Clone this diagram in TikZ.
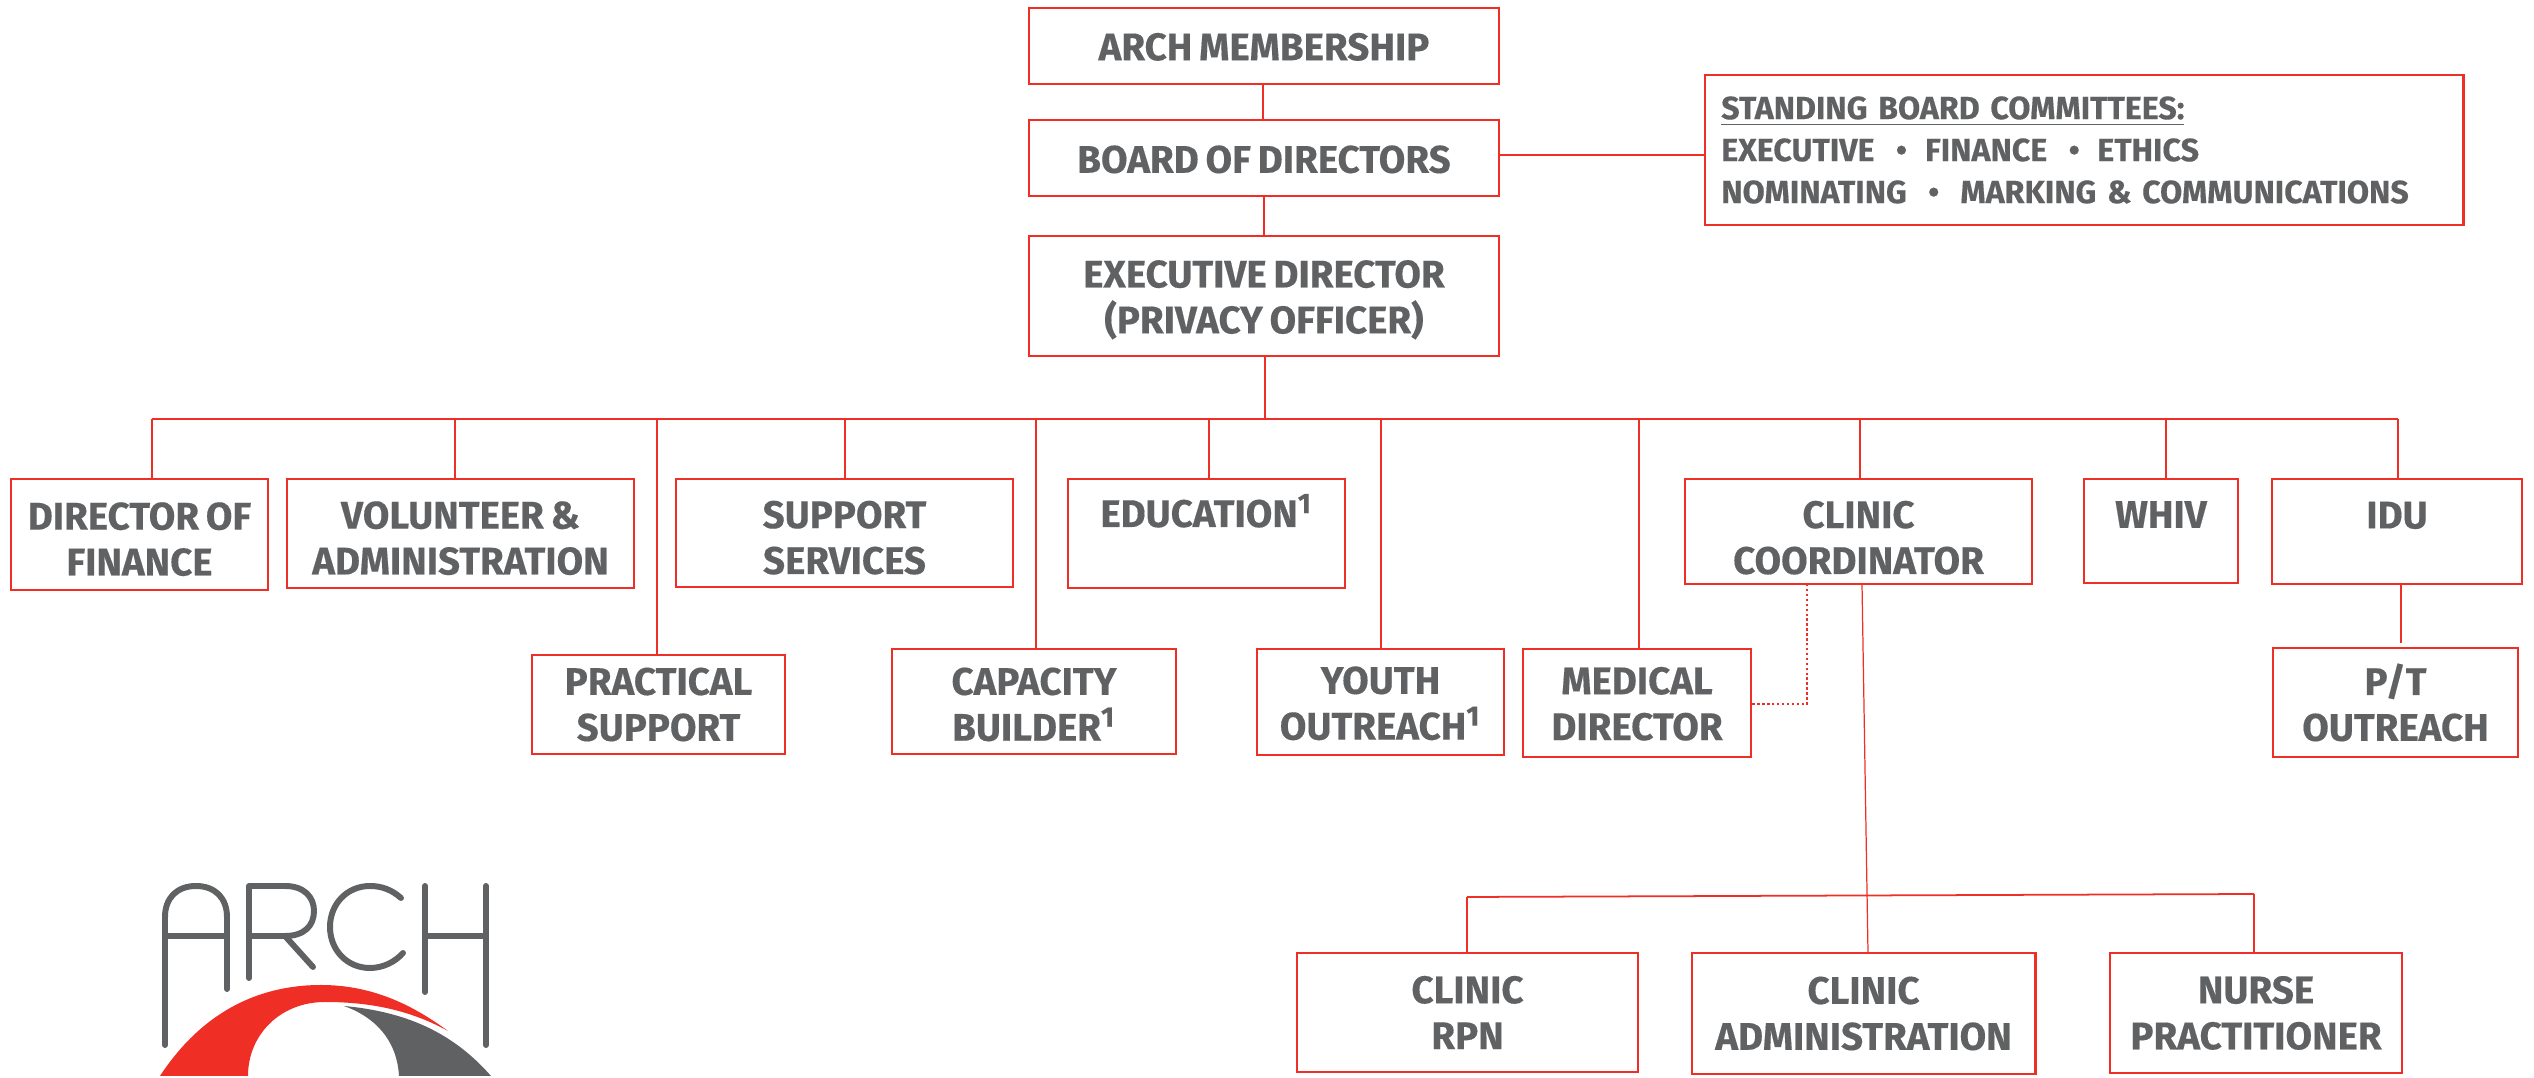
\documentclass[tikz,border=0pt]{standalone}
\usepackage{fontspec}
\setmainfont[BoldFeatures={FakeBold=0.35,WordSpace=0.75}]{Fira Sans}
\usetikzlibrary{positioning}
\definecolor{archred}{HTML}{EF2F26}
\definecolor{archgray}{HTML}{606163}

\begin{document}
\begin{tikzpicture}[
            box/.style={rectangle, draw=archred, line width=0.7pt, text=archgray, inner sep=0pt, align=center, font=\fontsize{10.95}{13.05}\selectfont\bfseries},
            conn/.style={draw=archred, line width=0.5pt},
            thinconn/.style={draw=archred, line width=0.35pt},
            dotconn/.style={draw=archred, line width=0.7pt, dash pattern=on 0.7pt off 0.7pt},
            logoline/.style={draw=archgray, line width=1.7pt, line cap=round, line join=round}
        ]
            \useasboundingbox (0,0) rectangle (25.34,-10.78);

            % top of the chart
            \node[box, text height=8.3pt, minimum width=4.7cm, minimum height=0.76cm] (membership) at (12.64,-0.46) {ARCH MEMBERSHIP};
            \node[box, text height=8.6pt, minimum width=4.7cm, minimum height=0.76cm] (board) at (12.64,-1.58) {BOARD OF DIRECTORS};
            \node[box, text height=23pt, minimum width=4.7cm, minimum height=1.2cm] (executive) at (12.64,-2.96) {EXECUTIVE DIRECTOR\\(PRIVACY OFFICER)};
            \node[box, minimum width=7.585cm, minimum height=1.5cm, text width=7.255cm, align=left, font=\fontsize{9.15}{11.95}\selectfont\bfseries] (committees) at (20.84,-1.5) {\underline{STANDING BOARD COMMITTEES:}\\EXECUTIVE~~•\hspace{5.15pt}FINANCE~~•\hspace{5pt}ETHICS\\NOMINATING~~•\hspace{6pt}MARKING \& COMMUNICATIONS};

            % first row
            \node[box, text height=23.5pt, minimum width=2.57cm, minimum height=1.11cm] (finance) at (1.395,-5.345) {DIRECTOR OF\\FINANCE};
            \node[box, text height=23.5pt, minimum width=3.47cm, minimum height=1.09cm] (volunteer) at (4.605,-5.335) {VOLUNTEER \&\\ADMINISTRATION};
            \node[box, text height=23.5pt, minimum width=3.37cm, minimum height=1.08cm] (support) at (8.445,-5.33) {SUPPORT\\SERVICES};
            \node[box, text height=22.4pt, minimum width=2.77cm, minimum height=1.09cm] (education) at (12.065,-5.335) {EDUCATION\textsuperscript{1}\\~};
            \node[box, text height=24.35pt, minimum width=3.47cm, minimum height=1.05cm] (coordinator) at (18.585,-5.315) {CLINIC\\COORDINATOR};
            \node[box, text height=24.35pt, minimum width=1.54cm, minimum height=1.04cm] (whiv) at (21.61,-5.31) {WHIV\\~};
            \node[box, text height=24.35pt, minimum width=2.5cm, minimum height=1.05cm] (idu) at (23.97,-5.315) {IDU\\~};

            % second row
            \node[box, minimum width=2.53cm, minimum height=0.99cm] (practical) at (6.585,-7.045) {PRACTICAL\\SUPPORT};
            \node[box, text height=22.5pt, minimum width=2.84cm, minimum height=1.05cm] (capacity) at (10.34,-7.015) {CAPACITY\\BUILDER\textsuperscript{1}};
            \node[box, text height=21.6pt, minimum width=2.47cm, minimum height=1.06cm] (youth) at (13.805,-7.02) {YOUTH\\OUTREACH\textsuperscript{1}};
            \node[box, text height=21.3pt, minimum width=2.28cm, minimum height=1.08cm] (medical) at (16.37,-7.03) {MEDICAL\\DIRECTOR};
            \node[box, minimum width=2.45cm, minimum height=1.09cm] (outreach) at (23.955,-7.025) {P/T\\OUTREACH};

            % clinic row
            \node[box, minimum width=3.41cm, minimum height=1.19cm] (rpn) at (14.675,-10.125) {CLINIC\\RPN};
            \node[box, minimum width=3.435cm, minimum height=1.21cm] (administration) at (18.635,-10.135) {CLINIC\\ADMINISTRATION};
            \node[box, minimum width=2.92cm, minimum height=1.2cm] (nurse) at (22.56,-10.13) {NURSE\\PRACTITIONER};

            % named ends of the lines
            \coordinate (busleft) at (1.52,-4.19);
            \coordinate (busright) at (23.98,-4.19);
            \coordinate (busexec) at (12.65,-4.2);
            \coordinate (busvol) at (4.55,-4.19);
            \coordinate (buspract) at (6.57,-4.19);
            \coordinate (bussup) at (8.45,-4.19);
            \coordinate (buscap) at (10.36,-4.19);
            \coordinate (busedu) at (12.09,-4.19);
            \coordinate (busyouth) at (13.81,-4.19);
            \coordinate (busmed) at (16.39,-4.19);
            \coordinate (busclin) at (18.6,-4.19);
            \coordinate (buswhiv) at (21.66,-4.19);
            \coordinate (clinicdown) at (18.62,-5.84);
            \coordinate (adminup) at (18.68,-9.53);
            \coordinate (lowleft) at (14.67,-8.97);
            \coordinate (lowright) at (22.54,-8.94);
            \coordinate (dotdown) at (18.07,-5.84);
            \coordinate (dotcorner) at (18.07,-7.04);
            \coordinate (idudown) at (24.01,-5.84);
            \coordinate (outreachgap) at (24.01,-6.43);

            \draw[conn] (membership.south -| 12.63,0) -- (board.north -| 12.63,0);
            \draw[conn] (board.south -| 12.64,0) -- (executive.north -| 12.64,0);
            \draw[conn] (executive.south -| 12.65,0) -- (busexec);
            \draw[conn] (board.east |- 0,-1.55) -- (committees.west |- 0,-1.55);

            \draw[conn] (busleft) -- (busright);
            \draw[conn] (busleft) -- (busleft |- finance.north);
            \draw[conn] (busvol) -- (busvol |- volunteer.north);
            \draw[conn] (buspract) -- (buspract |- practical.north);
            \draw[conn] (bussup) -- (bussup |- support.north);
            \draw[conn] (buscap) -- (buscap |- capacity.north);
            \draw[conn] (busedu) -- (busedu |- education.north);
            \draw[conn] (busyouth) -- (busyouth |- youth.north);
            \draw[conn] (busmed) -- (busmed |- medical.north);
            \draw[conn] (busclin) -- (busclin |- coordinator.north);
            \draw[conn] (buswhiv) -- (buswhiv |- whiv.north);
            \draw[conn] (busright) -- (busright |- idu.north);
            \draw[conn] (idudown) -- (outreachgap);

            \draw[dotconn] (dotdown) -- (dotcorner) -- (dotcorner -| medical.east);

            \draw[thinconn] (clinicdown) -- (adminup);
            \draw[conn] (lowleft) -- (lowright);
            \draw[thinconn] (lowleft) -- (lowleft |- rpn.north);
            \draw[thinconn] (lowright) -- (lowright |- nurse.north);

            % logo
            \draw[logoline] (1.65,-10.45) -- (1.65,-9.17) .. controls (1.65,-8.98) and (1.77,-8.86) .. (1.96,-8.86) .. controls (2.15,-8.86) and (2.27,-8.98) .. (2.27,-9.17) -- (2.27,-9.89);
            \draw[logoline] (1.65,-9.36) -- (2.27,-9.36);
            \draw[logoline] (2.49,-9.78) -- (2.49,-8.86) -- (2.85,-8.86) .. controls (3.04,-8.86) and (3.14,-8.97) .. (3.14,-9.11) .. controls (3.14,-9.26) and (3.04,-9.36) .. (2.85,-9.36) -- (2.49,-9.36);
            \draw[logoline] (2.85,-9.36) -- (3.13,-9.67);
            \draw[logoline] (4.01,-8.98) .. controls (3.92,-8.90) and (3.82,-8.86) .. (3.70,-8.86) .. controls (3.47,-8.86) and (3.30,-9.04) .. (3.30,-9.27) .. controls (3.30,-9.50) and (3.47,-9.68) .. (3.70,-9.68) .. controls (3.83,-9.68) and (3.95,-9.62) .. (4.03,-9.53);
            \draw[logoline] (4.25,-8.86) -- (4.25,-9.92);
            \draw[logoline] (4.86,-8.86) -- (4.86,-10.45);
            \draw[logoline] (4.25,-9.36) -- (4.86,-9.36);
            \fill[archred] (1.60,-10.76) .. controls (2.00,-10.15) and (2.55,-9.85) .. (3.21,-9.85) .. controls (3.70,-9.85) and (4.10,-10.03) .. (4.48,-10.31) .. controls (4.10,-10.10) and (3.70,-10.02) .. (3.25,-10.02) .. controls (2.80,-10.02) and (2.48,-10.35) .. (2.48,-10.76) -- cycle;
            \fill[archgray] (3.44,-10.06) .. controls (4.10,-10.12) and (4.55,-10.35) .. (4.91,-10.76) -- (3.99,-10.76) .. controls (3.97,-10.40) and (3.75,-10.17) .. (3.44,-10.06) -- cycle;
        \end{tikzpicture}
\end{document}
